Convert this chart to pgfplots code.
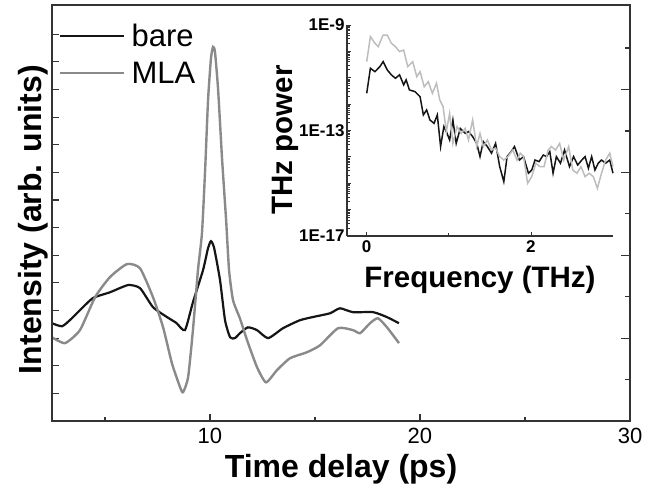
\documentclass[border=0pt]{standalone}
\usepackage{fontspec}
\setmainfont{Liberation Sans}
\usepackage{pgfplots}
\pgfplotsset{compat=1.18}

\definecolor{bareblack}{HTML}{151515}
\definecolor{mlagray}{HTML}{8A8A8A}
\definecolor{insetgray}{HTML}{BDBDBD}
\definecolor{axisgray}{HTML}{333333}

% pulse traces (time in ps, intensity arb. units)
\pgfplotstableread{
t y
2.48 3.54
2.96 3.43
3.40 3.70
3.81 4.01
4.43 4.45
5.24 4.66
6.10 4.92
6.67 4.81
7.29 4.12
7.96 3.76
8.40 3.55
8.81 3.29
9.19 4.30
9.67 5.46
9.91 6.26
10.05 6.51
10.20 6.26
10.48 5.10
10.72 3.64
10.96 3.03
11.19 3.00
11.43 3.18
11.81 3.39
12.24 3.29
12.77 3.00
13.48 3.36
14.29 3.65
15.00 3.78
15.72 3.90
16.19 4.08
16.81 3.94
17.77 3.94
18.43 3.76
19.00 3.54
}\bare

\pgfplotstableread{
t y
2.48 3.03
3.10 2.82
3.81 3.29
4.53 4.48
5.24 5.21
6.05 5.68
6.67 5.53
7.29 4.48
7.77 3.39
8.19 2.09
8.58 1.22
8.72 1.04
8.96 1.58
9.19 3.29
9.43 5.46
9.62 6.80
9.77 9.08
9.91 11.62
10.05 13.14
10.15 13.54
10.24 13.36
10.39 11.98
10.58 9.45
10.77 7.27
10.91 5.46
11.10 4.37
11.43 3.71
11.77 2.92
12.24 1.95
12.67 1.40
13.19 1.84
13.81 2.27
14.62 2.49
15.24 2.74
16.10 3.36
16.81 3.29
17.15 3.18
17.62 3.54
18.00 3.72
18.43 3.39
19.00 2.82
}\mla

% spectra (frequency in THz, log10 of power)
\pgfplotstableread{
f ly
0.00 -11.59
0.045 -10.64
0.10 -10.77
0.16 -10.58
0.20 -10.39
0.25 -10.70
0.30 -10.89
0.35 -11.02
0.40 -10.89
0.45 -11.27
0.48 -11.08
0.52 -11.46
0.59 -11.53
0.65 -11.72
0.69 -12.41
0.73 -12.22
0.77 -12.60
0.82 -12.73
0.86 -12.41
0.90 -13.61
0.94 -12.85
0.97 -13.04
1.01 -13.36
1.05 -12.60
1.09 -13.49
1.14 -12.92
1.20 -13.11
1.24 -13.04
1.29 -13.23
1.34 -13.49
1.38 -13.99
1.42 -13.42
1.47 -13.61
1.52 -13.86
1.57 -13.49
1.62 -14.37
1.67 -14.94
1.71 -13.99
1.76 -13.80
1.80 -13.61
1.86 -14.12
1.91 -13.99
1.97 -14.62
2.01 -14.50
2.05 -14.12
2.10 -14.18
2.15 -13.93
2.19 -13.99
2.23 -13.80
2.27 -14.62
2.31 -13.99
2.36 -14.24
2.41 -13.74
2.47 -14.37
2.52 -13.99
2.57 -14.31
2.62 -14.12
2.66 -13.99
2.70 -14.43
2.74 -13.99
2.78 -14.50
2.82 -14.24
2.86 -14.12
2.91 -14.24
2.96 -14.12
3.00 -14.62
}\barespec

\pgfplotstableread{
f ly
0.00 -10.39
0.045 -9.44
0.10 -9.69
0.14 -9.82
0.20 -9.38
0.25 -9.38
0.30 -9.69
0.35 -9.82
0.40 -10.01
0.45 -9.95
0.50 -10.58
0.56 -10.39
0.61 -10.96
0.65 -10.77
0.70 -11.34
0.75 -11.15
0.80 -11.59
0.85 -11.21
0.89 -11.84
0.93 -12.09
0.97 -13.04
1.01 -12.35
1.05 -13.49
1.10 -12.85
1.15 -13.11
1.20 -12.92
1.24 -13.36
1.29 -12.60
1.34 -13.61
1.38 -13.11
1.42 -13.61
1.47 -13.36
1.52 -13.74
1.57 -13.67
1.62 -13.99
1.67 -14.12
1.72 -13.99
1.78 -13.74
1.83 -14.12
1.87 -13.86
1.91 -13.99
1.96 -15.00
2.01 -14.75
2.06 -14.24
2.11 -14.37
2.16 -14.37
2.21 -13.74
2.25 -13.61
2.30 -13.74
2.35 -13.49
2.40 -14.12
2.46 -13.61
2.51 -14.50
2.56 -14.62
2.61 -14.37
2.66 -14.75
2.71 -14.62
2.76 -14.75
2.81 -15.19
2.86 -14.62
2.91 -14.12
2.96 -13.86
3.00 -14.37
}\mlaspec

\begin{document}
\begin{tikzpicture}
\useasboundingbox (-52pt,-63pt) rectangle (608pt,421pt);

% main axis
\begin{axis}[
    at={(0pt,0pt)}, anchor=south west,
    scale only axis,
    width=578pt, height=416pt,
    xmin=2.48, xmax=30, ymin=0, ymax=15.06,
    axis line style={axisgray, line width=1.3pt},
    tick style={axisgray, line width=1.2pt},
    tick align=inside,
    major tick length=7pt, minor tick length=4pt,
    xtick={10,20,30}, xticklabels={10,20,30},
    minor xtick={5,15,25},
    ytick={1,2,...,14}, yticklabels={},
    xtick pos=left, ytick pos=left,
    xticklabel style={font=\fontsize{22}{26}\selectfont, anchor=base, yshift=-22pt},
    xlabel={\textbf{Time delay (ps)}},
    xlabel style={font=\fontsize{32}{38}\selectfont, at={(axis description cs:0.5,-0.137)}, anchor=base},
    ylabel={\textbf{Intensity (arb. units)}},
    ylabel style={font=\fontsize{32}{38}\selectfont, at={(axis description cs:-0.019,0.484)}, anchor=base},
    legend style={at={(axis description cs:0.012,0.96)}, anchor=north west, draw=none, fill=none,
        font=\fontsize{31}{37}\selectfont, row sep=10pt, column sep=4pt, inner sep=0pt},
    legend cell align=left,
    legend image code/.code={\draw[#1] (0pt,0pt) -- (64pt,0pt);},
]
\addplot[bareblack, line width=2.2pt, smooth, tension=0.35] table[x=t, y=y] {\bare};
\addlegendentry{bare}
\addplot[mlagray, line width=2.4pt, smooth, tension=0.35] table[x=t, y=y] {\mla};
\addlegendentry{MLA}
\end{axis}

% extra ticks on top and right edges
\begin{axis}[
    at={(0pt,0pt)}, anchor=south west,
    scale only axis,
    width=578pt, height=416pt,
    xmin=2.48, xmax=30, ymin=0, ymax=15.06,
    axis line style={axisgray, line width=1.3pt},
    tick style={axisgray, line width=1.2pt},
    tick align=inside,
    major tick length=9pt, minor tick length=5pt,
    xtick=\empty,
    minor xtick={5.24,7.99,10.74,13.49,16.24,18.99,21.74,24.49,27.24},
    ytick={3,6,9,12}, yticklabels={},
    minor ytick={1.5,4.5,7.5,10.5,13.5},
    xtick pos=right, ytick pos=right,
]
\end{axis}

% inset spectrum
\begin{axis}[
    at={(295pt,185pt)}, anchor=south west,
    scale only axis,
    width=266pt, height=211pt,
    xmin=-0.24, xmax=3.0, ymin=-17, ymax=-9,
    axis lines=left,
    axis line style={-, axisgray, line width=1.1pt},
    tick style={axisgray, line width=0.8pt},
    tick align=inside,
    major tick length=4pt, minor tick length=2.5pt,
    xtick={0,2}, xticklabels={0,2}, minor xtick={1},
    ytick={-17,-16,...,-9},
    yticklabels={1E-17,,,,1E-13,,,,1E-9},
    minor ytick={-16.699,-16.523,-16.398,-16.301,-16.222,-16.155,-16.097,-16.046,
                 -15.699,-15.523,-15.398,-15.301,-15.222,-15.155,-15.097,-15.046,
                 -14.699,-14.523,-14.398,-14.301,-14.222,-14.155,-14.097,-14.046,
                 -13.699,-13.523,-13.398,-13.301,-13.222,-13.155,-13.097,-13.046,
                 -12.699,-12.523,-12.398,-12.301,-12.222,-12.155,-12.097,-12.046,
                 -11.699,-11.523,-11.398,-11.301,-11.222,-11.155,-11.097,-11.046,
                 -10.699,-10.523,-10.398,-10.301,-10.222,-10.155,-10.097,-10.046,
                 -9.699,-9.523,-9.398,-9.301,-9.222,-9.155,-9.097,-9.046},
    xticklabel style={font=\fontsize{17}{20}\selectfont\bfseries, anchor=base, yshift=-17pt},
    yticklabel style={font=\fontsize{17}{20}\selectfont\bfseries, xshift=1pt},
    xlabel={\textbf{Frequency (THz)}},
    xlabel style={font=\fontsize{29.5}{35}\selectfont, at={(axis description cs:0.5,-0.246)}, anchor=base},
    ylabel={\textbf{THz power}},
    ylabel style={font=\fontsize{29.5}{35}\selectfont, at={(axis description cs:-0.205,0.455)}, anchor=base},
    clip=false,
]
\addplot[bareblack, line width=1.5pt] table[x=f, y=ly] {\barespec};
\addplot[insetgray, line width=1.5pt] table[x=f, y=ly] {\mlaspec};
\end{axis}
\end{tikzpicture}
\end{document}
